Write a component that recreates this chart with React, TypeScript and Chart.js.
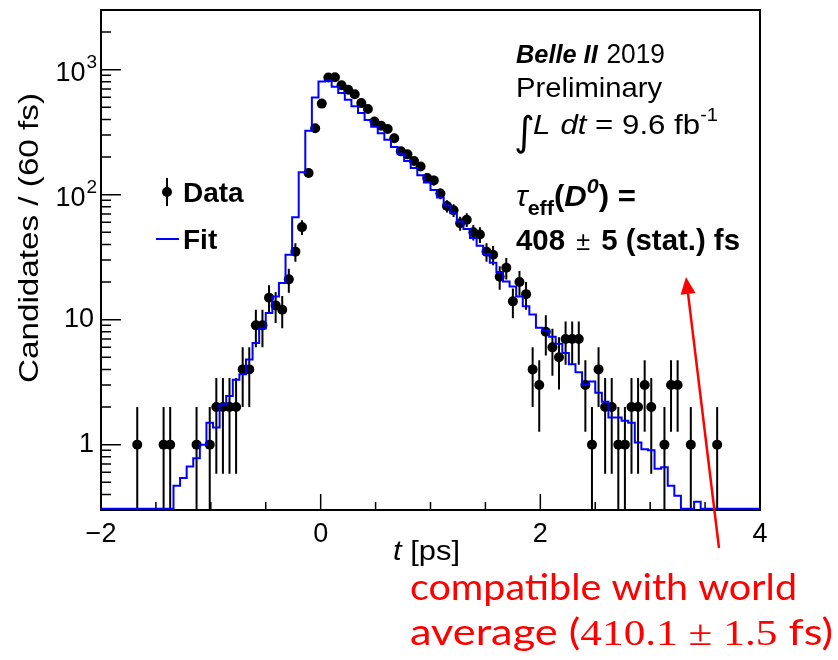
import React, { useEffect, useRef } from "react";
import { Chart, registerables } from "chart.js";

Chart.register(...registerables);

// Histogram binning of the decay-time axis
const BIN_LOW = -2;
const BIN_WIDTH = 0.06;

// Candidates per 60 fs bin (data), bins starting at t = -2 ps
const DATA_COUNTS = [
  0, 0, 0, 0, 0, 1, 0, 0, 0, 1,
  1, 0, 0, 0, 1, 0, 1, 2, 2, 2,
  2, 4, 4, 9, 9, 15, 13, 12, 21, 35,
  55, 149, 340, 535, 865, 870, 750, 690, 636, 540,
  485, 385, 356, 335, 283, 222, 210, 186, 168, 136,
  130, 102, 81, 75, 59, 63, 50, 48, 35, 33,
  22, 26, 14, 20, 16, 4, 3, 8, 6, 5,
  7, 7, 7, 3, 1, 4, 2, 2, 1, 1,
  2, 2, 3, 2, 0, 1, 3, 3, 0, 1,
  0, 0, 0, 1, 0, 0, 0, 0, 0, 0,
];

// Fit prediction per bin
const FIT_COUNTS = [
  0, 0, 0, 0, 0, 0, 0, 0, 0, 0,
  0, 0, 0.47, 0.54, 0.67, 0.78, 1.0, 1.5, 1.37, 2.1,
  2.45, 3.3, 3.65, 4.8, 6.5, 8.5, 11.3, 15.3, 19.6, 33,
  66, 151, 325, 598, 805, 820, 730, 650, 575, 510,
  450, 395, 350, 310, 275, 240, 212, 186, 163, 143,
  125, 109, 95, 82, 71, 61, 53, 45, 39, 33.5,
  28.5, 24, 20.2, 18.4, 15.3, 12.8, 11.0, 8.6, 8.2, 7.3,
  6.4, 5.4, 4.4, 3.8, 3.0, 3.2, 2.6, 2.2, 1.65, 1.65,
  1.55, 1.5, 1.04, 0.92, 0.9, 0.64, 0.66, 0.47, 0.39, 0,
  0, 0.35, 0, 0, 0, 0, 0, 0, 0, 0,
];

const X_MIN = -2;
const X_MAX = 4;
const X_TICKS = [-2, 0, 2, 4];
const Y_MIN = 0.3;
const Y_MAX = 3000;
// empty fit bins are drawn along the bottom of the frame
const FIT_FLOOR = 0.307;
const Y_TICKS = [1, 10, 100, 1000];
const Y_TICK_LABELS: [string, string][] = [
  ["1", ""],
  ["10", ""],
  ["10", "2"],
  ["10", "3"],
];

const SANS = '"Liberation Sans", Arial, Helvetica, sans-serif';
const SERIF = '"Liberation Serif", "DejaVu Serif", serif';
const NOTE = 'Lato, "Open Sans", sans-serif';
const BLUE = "#0000ff";
const RED = "#ff0000";

const f = (size: number, weight = "normal", style = "normal", family = SANS) =>
  `${style} ${weight} ${size}px ${family}`;

type Seg = { t: string; font: string; dy?: number; gap?: number };

function segWidth(ctx: CanvasRenderingContext2D, segs: Seg[]) {
  let w = 0;
  for (const s of segs) {
    ctx.font = s.font;
    w += (s.gap || 0) + ctx.measureText(s.t).width;
  }
  return w;
}

// Draws a run of differently styled text pieces; optionally squeezed/stretched to a width
function drawSegs(
  ctx: CanvasRenderingContext2D,
  x: number,
  y: number,
  segs: Seg[],
  color: string,
  targetWidth?: number
) {
  ctx.save();
  ctx.translate(x, y);
  if (targetWidth) {
    const w = segWidth(ctx, segs);
    ctx.scale(targetWidth / w, 1);
  }
  ctx.fillStyle = color;
  ctx.textBaseline = "alphabetic";
  ctx.textAlign = "left";
  let cx = 0;
  for (const s of segs) {
    ctx.font = s.font;
    cx += s.gap || 0;
    ctx.fillText(s.t, cx, s.dy || 0);
    cx += ctx.measureText(s.t).width;
  }
  ctx.restore();
}

const binCenter = (i: number) => BIN_LOW + BIN_WIDTH * (i + 0.5);
const binEdge = (i: number) => BIN_LOW + BIN_WIDTH * i;

const decorPlugin = {
  id: "lifetimeDecor",
  beforeDatasetsDraw(chart: any) {
    const { ctx, chartArea, scales } = chart;
    const x = scales.x;
    const y = scales.y;
    const { left, right, top, bottom } = chartArea;
    ctx.save();
    // frame
    ctx.strokeStyle = "#000";
    ctx.lineWidth = 2;
    ctx.strokeRect(left, top, right - left, bottom - top);

    // y ticks (log decades with sub-divisions)
    ctx.lineWidth = 1.5;
    ctx.beginPath();
    for (let e = -1; e <= 3; e++) {
      for (let m = 1; m <= 9; m++) {
        const v = m * Math.pow(10, e);
        if (v < Y_MIN || v > Y_MAX) continue;
        const py = y.getPixelForValue(v);
        const len = m === 1 ? 20 : 10;
        ctx.moveTo(left, py);
        ctx.lineTo(left + len, py);
      }
    }
    // x ticks
    for (let t = X_MIN; t <= X_MAX + 1e-9; t += 0.5) {
      const px = x.getPixelForValue(t);
      const len = Math.abs(t % 2) < 1e-9 ? 16 : 8;
      ctx.moveTo(px, bottom);
      ctx.lineTo(px, bottom - len);
    }
    ctx.stroke();
    ctx.restore();
  },
  beforeDatasetDraw(chart: any, args: any) {
    if (args.index !== 0) return;
    const { ctx, chartArea, scales } = chart;
    const x = scales.x;
    const y = scales.y;
    ctx.save();
    ctx.beginPath();
    ctx.rect(chartArea.left, chartArea.top, chartArea.width, chartArea.height);
    ctx.clip();
    ctx.strokeStyle = "#000";
    ctx.lineWidth = 2;
    ctx.beginPath();
    DATA_COUNTS.forEach((n, i) => {
      if (n <= 0) return;
      const px = x.getPixelForValue(binCenter(i));
      const err = Math.sqrt(n);
      const hi = y.getPixelForValue(n + err);
      const lo = n - err > Y_MIN ? y.getPixelForValue(n - err) : chartArea.bottom;
      ctx.moveTo(px, hi);
      ctx.lineTo(px, lo);
    });
    ctx.stroke();
    ctx.restore();
  },
  afterDraw(chart: any) {
    const { ctx, scales } = chart;
    const y = scales.y;
    ctx.save();

    // y tick labels
    ctx.fillStyle = "#000";
    ctx.textBaseline = "middle";
    ctx.textAlign = "right";
    Y_TICKS.forEach((v, i) => {
      const [base, exp] = Y_TICK_LABELS[i];
      const py = y.getPixelForValue(v);
      if (!exp) {
        ctx.font = f(27);
        ctx.fillText(base, 94, py);
      } else {
        ctx.font = f(19);
        const ew = ctx.measureText(exp).width;
        ctx.fillText(exp, 97, py - 7);
        ctx.font = f(27);
        ctx.fillText(base, 97 - ew - 1, py + 4);
      }
    });

    // y axis title
    ctx.save();
    ctx.translate(28, 238);
    ctx.rotate(-Math.PI / 2);
    drawSegs(ctx, -145, 10, [{ t: "Candidates / (60 fs)", font: f(27) }], "#000", 290);
    ctx.restore();

    // x axis title
    drawSegs(ctx, 393, 560, [
      { t: "t", font: f(27, "normal", "italic") },
      { t: " [ps]", font: f(27) },
    ], "#000", 67);

    // legend
    ctx.strokeStyle = "#000";
    ctx.lineWidth = 2;
    ctx.beginPath();
    ctx.moveTo(167, 178);
    ctx.lineTo(167, 206);
    ctx.stroke();
    ctx.fillStyle = "#000";
    ctx.beginPath();
    ctx.arc(167, 192, 5, 0, Math.PI * 2);
    ctx.fill();
    drawSegs(ctx, 183, 202, [{ t: "Data", font: f(28, "bold") }], "#000");
    ctx.strokeStyle = BLUE;
    ctx.beginPath();
    ctx.moveTo(156, 239);
    ctx.lineTo(179, 239);
    ctx.stroke();
    drawSegs(ctx, 183, 249, [{ t: "Fit", font: f(28, "bold") }], "#000");

    // experiment labels
    drawSegs(ctx, 516, 63, [
      { t: "Belle II", font: f(26, "bold", "italic") },
      { t: "2019", font: f(27), gap: 9 },
    ], "#000", 149);
    drawSegs(ctx, 516, 97, [{ t: "Preliminary", font: f(28) }], "#000", 146);
    drawSegs(ctx, 514, 145, [{ t: "\u222B", font: f(40, "normal", "normal", '"DejaVu Sans", sans-serif') }], "#000");
    drawSegs(ctx, 533, 134, [
      { t: "L", font: f(28, "normal", "italic") },
      { t: "dt", font: f(28, "normal", "italic"), gap: 9 },
      { t: " = 9.6 fb", font: f(28) },
      { t: "-1", font: f(18), dy: -13 },
    ], "#000", 185);
    drawSegs(ctx, 516, 206, [
      { t: "\u03C4", font: f(29, "normal", "italic") },
      { t: "eff", font: f(20, "bold"), dy: 9 },
      { t: "(", font: f(29, "bold") },
      { t: "D", font: f(29, "bold", "italic") },
      { t: "0", font: f(20, "bold", "italic"), dy: -13 },
      { t: ") =", font: f(29, "bold") },
    ], "#000", 120);
    drawSegs(ctx, 516, 250, [
      { t: "408", font: f(29, "bold") },
      { t: "\u00B1", font: f(25), gap: 11 },
      { t: "5 (stat.) fs", font: f(29, "bold"), gap: 11 },
    ], "#000", 224);

    // note arrow
    ctx.strokeStyle = RED;
    ctx.fillStyle = RED;
    ctx.lineWidth = 2.5;
    const tail = { x: 719, y: 548 };
    const head = { x: 686, y: 277 };
    const ang = Math.atan2(head.y - tail.y, head.x - tail.x);
    const hl = 17;
    const hw = 7.5;
    const bx = head.x - hl * Math.cos(ang);
    const by = head.y - hl * Math.sin(ang);
    ctx.beginPath();
    ctx.moveTo(tail.x, tail.y);
    ctx.lineTo(bx, by);
    ctx.stroke();
    ctx.beginPath();
    ctx.moveTo(head.x, head.y);
    ctx.lineTo(bx + hw * Math.sin(ang), by - hw * Math.cos(ang));
    ctx.lineTo(bx - hw * Math.sin(ang), by + hw * Math.cos(ang));
    ctx.closePath();
    ctx.fill();

    drawSegs(ctx, 410, 600, [{ t: "compatible with world", font: f(36, "normal", "normal", NOTE) }], RED, 387);
    drawSegs(ctx, 410, 645, [
      { t: "average (", font: f(36, "normal", "normal", NOTE) },
      { t: "410.1 \u00B1 1.5", font: f(36, "normal", "normal", SERIF) },
      { t: " fs)", font: f(36, "normal", "normal", NOTE) },
    ], RED, 423);

    ctx.restore();
  },
};

export default function App() {
  const canvasRef = useRef<HTMLCanvasElement | null>(null);

  useEffect(() => {
    const canvas = canvasRef.current;
    if (!canvas) return;

    const dataPoints = DATA_COUNTS.map((n, i) => ({ x: binCenter(i), y: n })).filter((p) => p.y > 0);
    const fitPoints = FIT_COUNTS.map((v, i) => ({ x: binEdge(i), y: Math.max(v, FIT_FLOOR) }));
    fitPoints.push({ x: binEdge(FIT_COUNTS.length), y: Math.max(FIT_COUNTS[FIT_COUNTS.length - 1], FIT_FLOOR) });

    const chart = new Chart(canvas, {
      type: "scatter",
      data: {
        datasets: [
          {
            label: "Data",
            data: dataPoints,
            showLine: false,
            pointRadius: 5,
            pointHoverRadius: 5,
            pointBackgroundColor: "#000",
            pointBorderWidth: 0,
            order: 2,
          },
          {
            type: "line",
            label: "Fit",
            data: fitPoints,
            stepped: "after",
            borderColor: BLUE,
            borderWidth: 2,
            pointRadius: 0,
            fill: false,
            clip: 3,
            order: 1,
          } as any,
        ],
      },
      options: {
        animation: false,
        responsive: false,
        events: [],
        layout: { padding: { top: 10, right: 78, left: 0, bottom: 0 } },
        plugins: {
          legend: { display: false },
          tooltip: { enabled: false },
        },
        scales: {
          x: {
            type: "linear",
            min: X_MIN,
            max: X_MAX,
            afterFit: (s: any) => {
              s.height = 150;
            },
            afterBuildTicks: (s: any) => {
              s.ticks = X_TICKS.map((v) => ({ value: v }));
            },
            grid: { display: false },
            border: { display: false },
            ticks: {
              padding: 0,
              color: "#000",
              font: { family: SANS, size: 27 },
              maxRotation: 0,
              autoSkip: false,
              callback: (v: any) => (Number(v) < 0 ? "\u2212" + Math.abs(Number(v)) : String(v)),
            },
          },
          y: {
            type: "logarithmic",
            min: Y_MIN,
            max: Y_MAX,
            afterFit: (s: any) => {
              s.width = 101;
            },
            grid: { display: false },
            border: { display: false },
            ticks: { display: false },
          },
        },
      },
      plugins: [decorPlugin],
    });

    return () => chart.destroy();
  }, []);

  return (
    <div style={{ position: "absolute", left: 0, top: 0, width: 838, height: 660, background: "#fff" }}>
      <canvas ref={canvasRef} width={838} height={660} />
    </div>
  );
}
